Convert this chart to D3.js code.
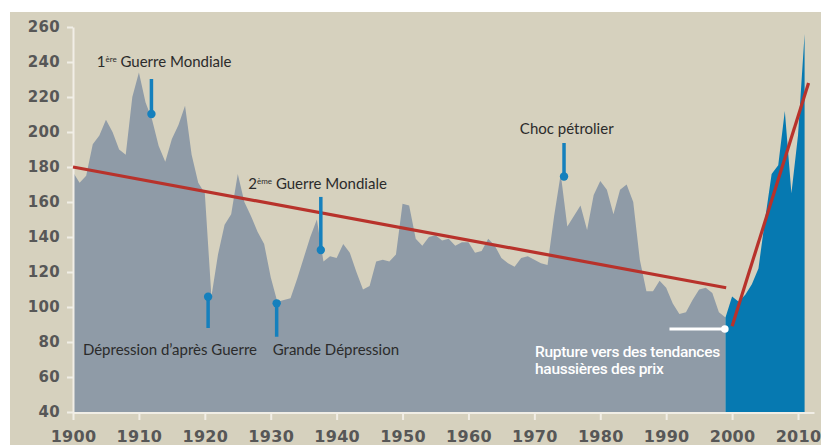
<!DOCTYPE html>
<html>
<head>
<meta charset="utf-8">
<script src="https://cdn.jsdelivr.net/npm/d3@7"></script>
<style>
  html, body { margin: 0; padding: 0; background: #ffffff; }
  svg { display: block; }
</style>
</head>
<body>
<svg id="chart" width="821" height="445"></svg>
<script>
// ---------- DATA ----------
const startYear = 1900;
const priceIndex = [
  177, 171, 175, 193, 198, 207, 200, 190, 187, 220,
  234, 217, 207, 192, 183, 196, 204, 215, 187, 171,
  165, 106, 130, 147, 153, 176, 160, 152, 143, 136,
  117, 103, 104, 105, 116, 128, 140, 150, 126, 129,
  128, 136, 131, 120, 110, 112, 126, 127, 126, 130,
  159, 158, 139, 135, 140, 141, 138, 139, 135, 137,
  137, 131, 132, 139, 135, 128, 125, 123, 128, 129,
  127, 125, 124, 152, 176, 146, 152, 158, 144, 164,
  172, 167, 153, 167, 170, 160, 127, 109, 109, 115,
  111, 102, 96, 97, 104, 110, 111, 108, 97, 94,
  106, 103, 107, 113, 122, 150, 176, 181, 212, 165,
  198, 256
];
const breakYear = 1999;
const xTicks = [1900, 1910, 1920, 1930, 1940, 1950, 1960, 1970, 1980, 1990, 2000, 2010];
const yTicks = [40, 60, 80, 100, 120, 140, 160, 180, 200, 220, 240, 260];

const trendDown = [{year: 1900, value: 180}, {year: 1999.1, value: 111}];
const trendUp   = [{year: 2000, value: 89}, {year: 2011.6, value: 228}];

// pins: dot (year,value), stem end value, label anchor (year,value)
const pins = [
  {pre: "1", sup: "ère", text: " Guerre Mondiale", year: 1911.9, dot: 210.3, end: 230.3, lx: 1903.6, ly: 237.3},
  {pre: "2", sup: "ème", text: " Guerre Mondiale", year: 1937.6, dot: 132.6, end: 162.9, lx: 1926.6, ly: 167.4},
  {pre: "", sup: "", text: "Choc pétrolier", year: 1974.5, dot: 174.6, end: 193.7, lx: 1967.8, ly: 198.9},
  {pre: "", sup: "", text: "Dépression d’après Guerre", year: 1920.5, dot: 105.9, end: 88, lx: 1901.5, ly: 72.6},
  {pre: "", sup: "", text: "Grande Dépression", year: 1930.9, dot: 102.1, end: 83, lx: 1930.3, ly: 72.6}
];
const rupture = {from: 1990.5, to: 1998.9, value: 87.4,
  lines: ["Rupture vers des tendances", "haussières des prix"], lx: 1970.1, ly: [71.4, 61.7]};

// ---------- DRAW ----------
const svg = d3.select("#chart");
svg.append("rect").attr("x", 10).attr("y", 12).attr("width", 811).attr("height", 433).attr("fill", "#d6d1be");

const x = d3.scaleLinear().domain([1900, 2010]).range([73, 798]);
const y = d3.scaleLinear().domain([40, 260]).range([412, 27]);

const data = priceIndex.map((v, i) => ({year: startYear + i, value: v}));
const area = d3.area().x(d => x(d.year)).y0(y(40)).y1(d => y(d.value));

svg.append("path").datum(data.filter(d => d.year <= breakYear))
  .attr("d", area).attr("fill", "#8f9ba7");
svg.append("path").datum(data.filter(d => d.year >= breakYear))
  .attr("d", area).attr("fill", "#0679b1");

// axes
const axisColor = "#f1eee6";
const gy = svg.append("g").attr("transform", `translate(${x(1900)},0)`)
  .call(d3.axisLeft(y).tickValues(yTicks).tickSize(6).tickSizeOuter(0).tickPadding(7));
const gx = svg.append("g").attr("transform", `translate(0,${y(40) + 1})`)
  .call(d3.axisBottom(x).tickValues(xTicks).tickSize(7).tickSizeOuter(0).tickPadding(11).tickFormat(d3.format("d")));
[gx, gy].forEach(g => {
  g.select(".domain").attr("stroke", axisColor).attr("stroke-width", 2);
  g.selectAll(".tick line").attr("stroke", axisColor).attr("stroke-width", 2);
  g.selectAll(".tick text").attr("fill", "#575757")
    .attr("font-family", "DejaVu Sans, sans-serif").attr("font-weight", "bold")
    .attr("letter-spacing", "0.3px");
});
gy.selectAll(".tick text").attr("font-size", 15);
gx.selectAll(".tick text").attr("font-size", 16);
gx.select(".domain").remove();
gx.append("line").attr("x1", x(1900)).attr("x2", x(2012.5)).attr("y1", 0).attr("y2", 0)
  .attr("stroke", axisColor).attr("stroke-width", 2);

// trend lines
const line = d3.line().x(d => x(d.year)).y(d => y(d.value));
[trendDown, trendUp].forEach(t => {
  svg.append("path").datum(t).attr("d", line)
    .attr("fill", "none").attr("stroke", "#b8322b").attr("stroke-width", 3.2);
});

// pins
const pinColor = "#1580bd";
pins.forEach(p => {
  svg.append("line").attr("x1", x(p.year)).attr("x2", x(p.year))
    .attr("y1", y(p.end)).attr("y2", y(p.dot))
    .attr("stroke", pinColor).attr("stroke-width", 3.5);
  svg.append("circle").attr("cx", x(p.year)).attr("cy", y(p.dot)).attr("r", 4.2).attr("fill", pinColor);
  const t = svg.append("text").attr("x", x(p.lx)).attr("y", y(p.ly))
    .attr("font-family", "Lato, sans-serif").attr("font-size", 15).attr("fill", "#2b2b2b");
  if (p.pre) {
    t.append("tspan").text(p.pre);
    t.append("tspan").attr("font-size", 8).attr("dy", -5).text(p.sup);
    t.append("tspan").attr("dy", 5).text(p.text);
  } else {
    t.text(p.text);
  }
});

// rupture annotation
svg.append("line").attr("x1", x(rupture.from)).attr("x2", x(rupture.to))
  .attr("y1", y(rupture.value)).attr("y2", y(rupture.value))
  .attr("stroke", "#ffffff").attr("stroke-width", 3);
svg.append("circle").attr("cx", x(rupture.to)).attr("cy", y(rupture.value)).attr("r", 3.8).attr("fill", "#ffffff");
rupture.lines.forEach((l, i) => {
  svg.append("text").attr("x", x(rupture.lx)).attr("y", y(rupture.ly[i]))
    .attr("font-family", "Roboto, sans-serif").attr("font-size", 15.5).attr("font-weight", 500)
    .attr("fill", "#ffffff").attr("letter-spacing", "-0.3px").text(l);
});
</script>
</body>
</html>
